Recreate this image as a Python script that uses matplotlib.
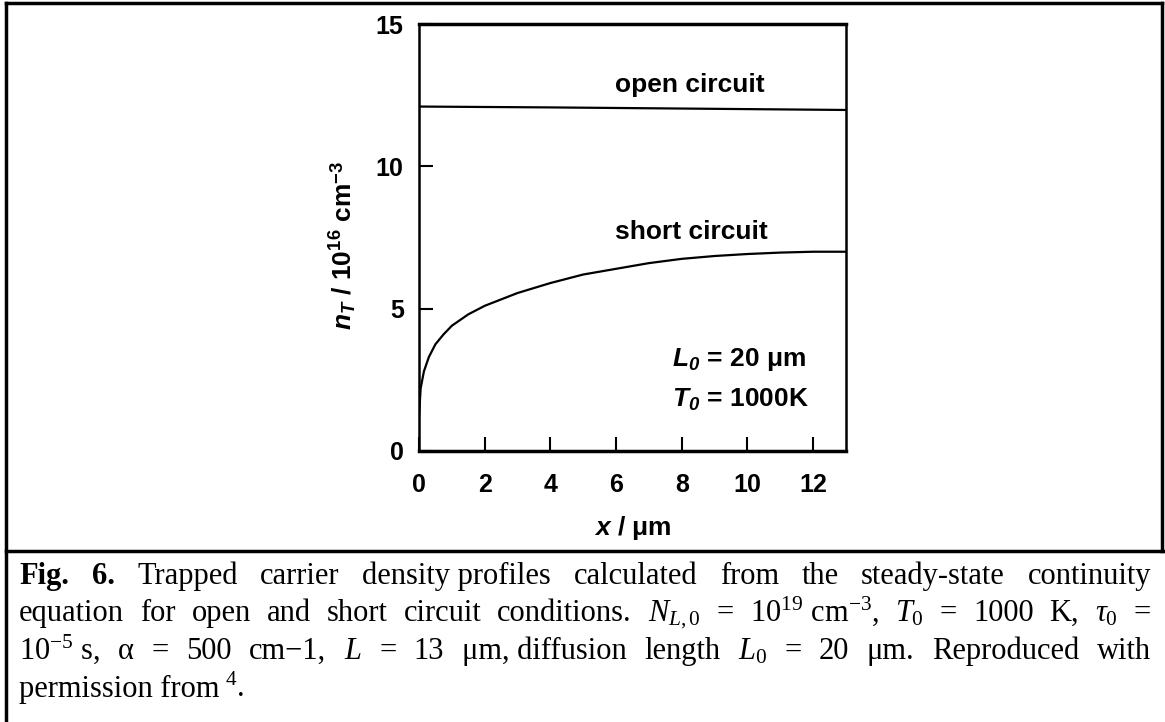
import matplotlib
matplotlib.use("Agg")
import matplotlib.pyplot as plt
from matplotlib.lines import Line2D

# values
x_short = [0, 0.05, 0.15, 0.3, 0.5, 0.75, 1.0, 1.5, 2, 3, 4, 5, 6, 7, 8, 9, 10, 11, 12, 13]
nt_short = [1.2, 2.2, 2.8, 3.3, 3.75, 4.1, 4.4, 4.8, 5.1, 5.55, 5.9, 6.2, 6.4, 6.6, 6.75,
            6.85, 6.92, 6.97, 7.0, 7.0]
x_open = [0, 4, 8, 13]
nt_open = [12.1, 12.07, 12.03, 11.98]

x_ticks = [0, 2, 4, 6, 8, 10, 12]
y_ticks = [0, 5, 10, 15]

plt.rcParams['mathtext.fontset'] = 'custom'
plt.rcParams['mathtext.rm'] = 'Liberation Serif'
plt.rcParams['mathtext.it'] = 'Liberation Serif:italic'
plt.rcParams['mathtext.bf'] = 'Liberation Sans:bold'
plt.rcParams['mathtext.bfit'] = 'Liberation Sans:bold:italic'
plt.rcParams['mathtext.sf'] = 'Liberation Sans'

W, H = 1165, 722
fig = plt.figure(figsize=(W / 100, H / 100), dpi=100)

# axes box: left 419, right 846, top 24, bottom 451 (pixels)
ax = fig.add_axes([419 / W, 1 - 451 / H, (846 - 419) / W, (451 - 24) / H])
ax.plot(x_open, nt_open, color='black', lw=1.6)
ax.plot(x_short, nt_short, color='black', lw=1.6)
ax.set_xlim(0, 13)
ax.set_ylim(0, 15)
ax.set_xticks(x_ticks)
ax.set_yticks(y_ticks)
sans = 'Liberation Sans'
ax.set_xticklabels([str(t) for t in x_ticks], fontfamily=sans, fontweight='bold', fontsize=18)
ax.set_yticklabels([str(t) for t in y_ticks], fontfamily=sans, fontweight='bold', fontsize=18)
ax.tick_params(direction='in', length=10, width=1.5)
ax.tick_params(axis='x', pad=16)
ax.tick_params(axis='y', pad=11)
for s in ['top', 'bottom']:
    ax.spines[s].set_linewidth(2.5)
for s in ['left', 'right']:
    ax.spines[s].set_linewidth(1.8)

ax.set_xlabel(r'$\mathbfit{x}$ / μm', fontfamily=sans, fontweight='bold', fontsize=19, labelpad=12)
ax.set_ylabel(r'$\mathbfit{n_T}$ / $\mathbf{10^{16}}$ cm$^{\mathbf{-3}}$', fontfamily=sans,
              fontweight='bold', fontsize=19)
ax.yaxis.set_label_coords(-0.14, 0.482)

ax.text(8.25, 12.85, 'open circuit', ha='center', va='center', fontfamily=sans,
        fontweight='bold', fontsize=19)
ax.text(8.3, 7.7, 'short circuit', ha='center', va='center', fontfamily=sans,
        fontweight='bold', fontsize=19)
ax.text(7.7, 3.2, r'$\mathbfit{L_0}$ = 20 μm', ha='left', va='center', fontfamily=sans,
        fontweight='bold', fontsize=19)
ax.text(7.7, 1.8, r'$\mathbfit{T_0}$ = 1000K', ha='left', va='center', fontfamily=sans,
        fontweight='bold', fontsize=19)

# frame around the figure and caption
def fline(x0, y0, x1, y1, lw=2.5):
    fig.add_artist(Line2D([x0 / W, x1 / W], [1 - y0 / H, 1 - y1 / H], color='black',
                          lw=lw, transform=fig.transFigure))

fline(6, 3, 1162, 3)
fline(6, 3, 6, 722)
fline(1162, 3, 1162, 551)
fline(6, 551, 1165, 551)

# caption, justified line by line
serif = 'Liberation Serif'
cap_size = 22
caption = [
    [('Fig.', 'bold'), ('6.', 'bold'), 'Trapped', 'carrier', 'density profiles', 'calculated',
     'from', 'the', 'steady-state', 'continuity'],
    ['equation', 'for', 'open', 'and', 'short', 'circuit', 'conditions.', r'$N_{L,0}$', '=',
     r'10$^{19}$ cm$^{-3}$,', r'$T_0$', '=', '1000', 'K,', r'$\tau_0$', '='],
    [r'10$^{-5}$ s,', 'α', '=', '500', 'cm−1,', r'$L$', '=', '13', 'μm, diffusion', 'length',
     r'$L_0$', '=', '20', 'μm.', 'Reproduced', 'with'],
    ['permission from', r'$^{4}$.'],
]
baselines = [584, 621, 659, 697]
x_left, x_right = 19, 1151

fig.canvas.draw()
renderer = fig.canvas.get_renderer()
for i, words in enumerate(caption):
    texts = []
    for w in words:
        weight = 'normal'
        if isinstance(w, tuple):
            w, weight = w
        t = fig.text(0, 1 - baselines[i] / H, w, fontfamily=serif, fontweight=weight,
                     fontsize=cap_size, va='baseline', ha='left')
        texts.append(t)
    widths = [t.get_window_extent(renderer).width for t in texts]
    if i < len(caption) - 1:
        gap = (x_right - x_left - sum(widths)) / (len(texts) - 1)
    else:
        gap = 5
    x = x_left
    for t, wd in zip(texts, widths):
        t.set_x(x / W)
        x += wd + gap

fig.savefig('out.png', dpi=100)
